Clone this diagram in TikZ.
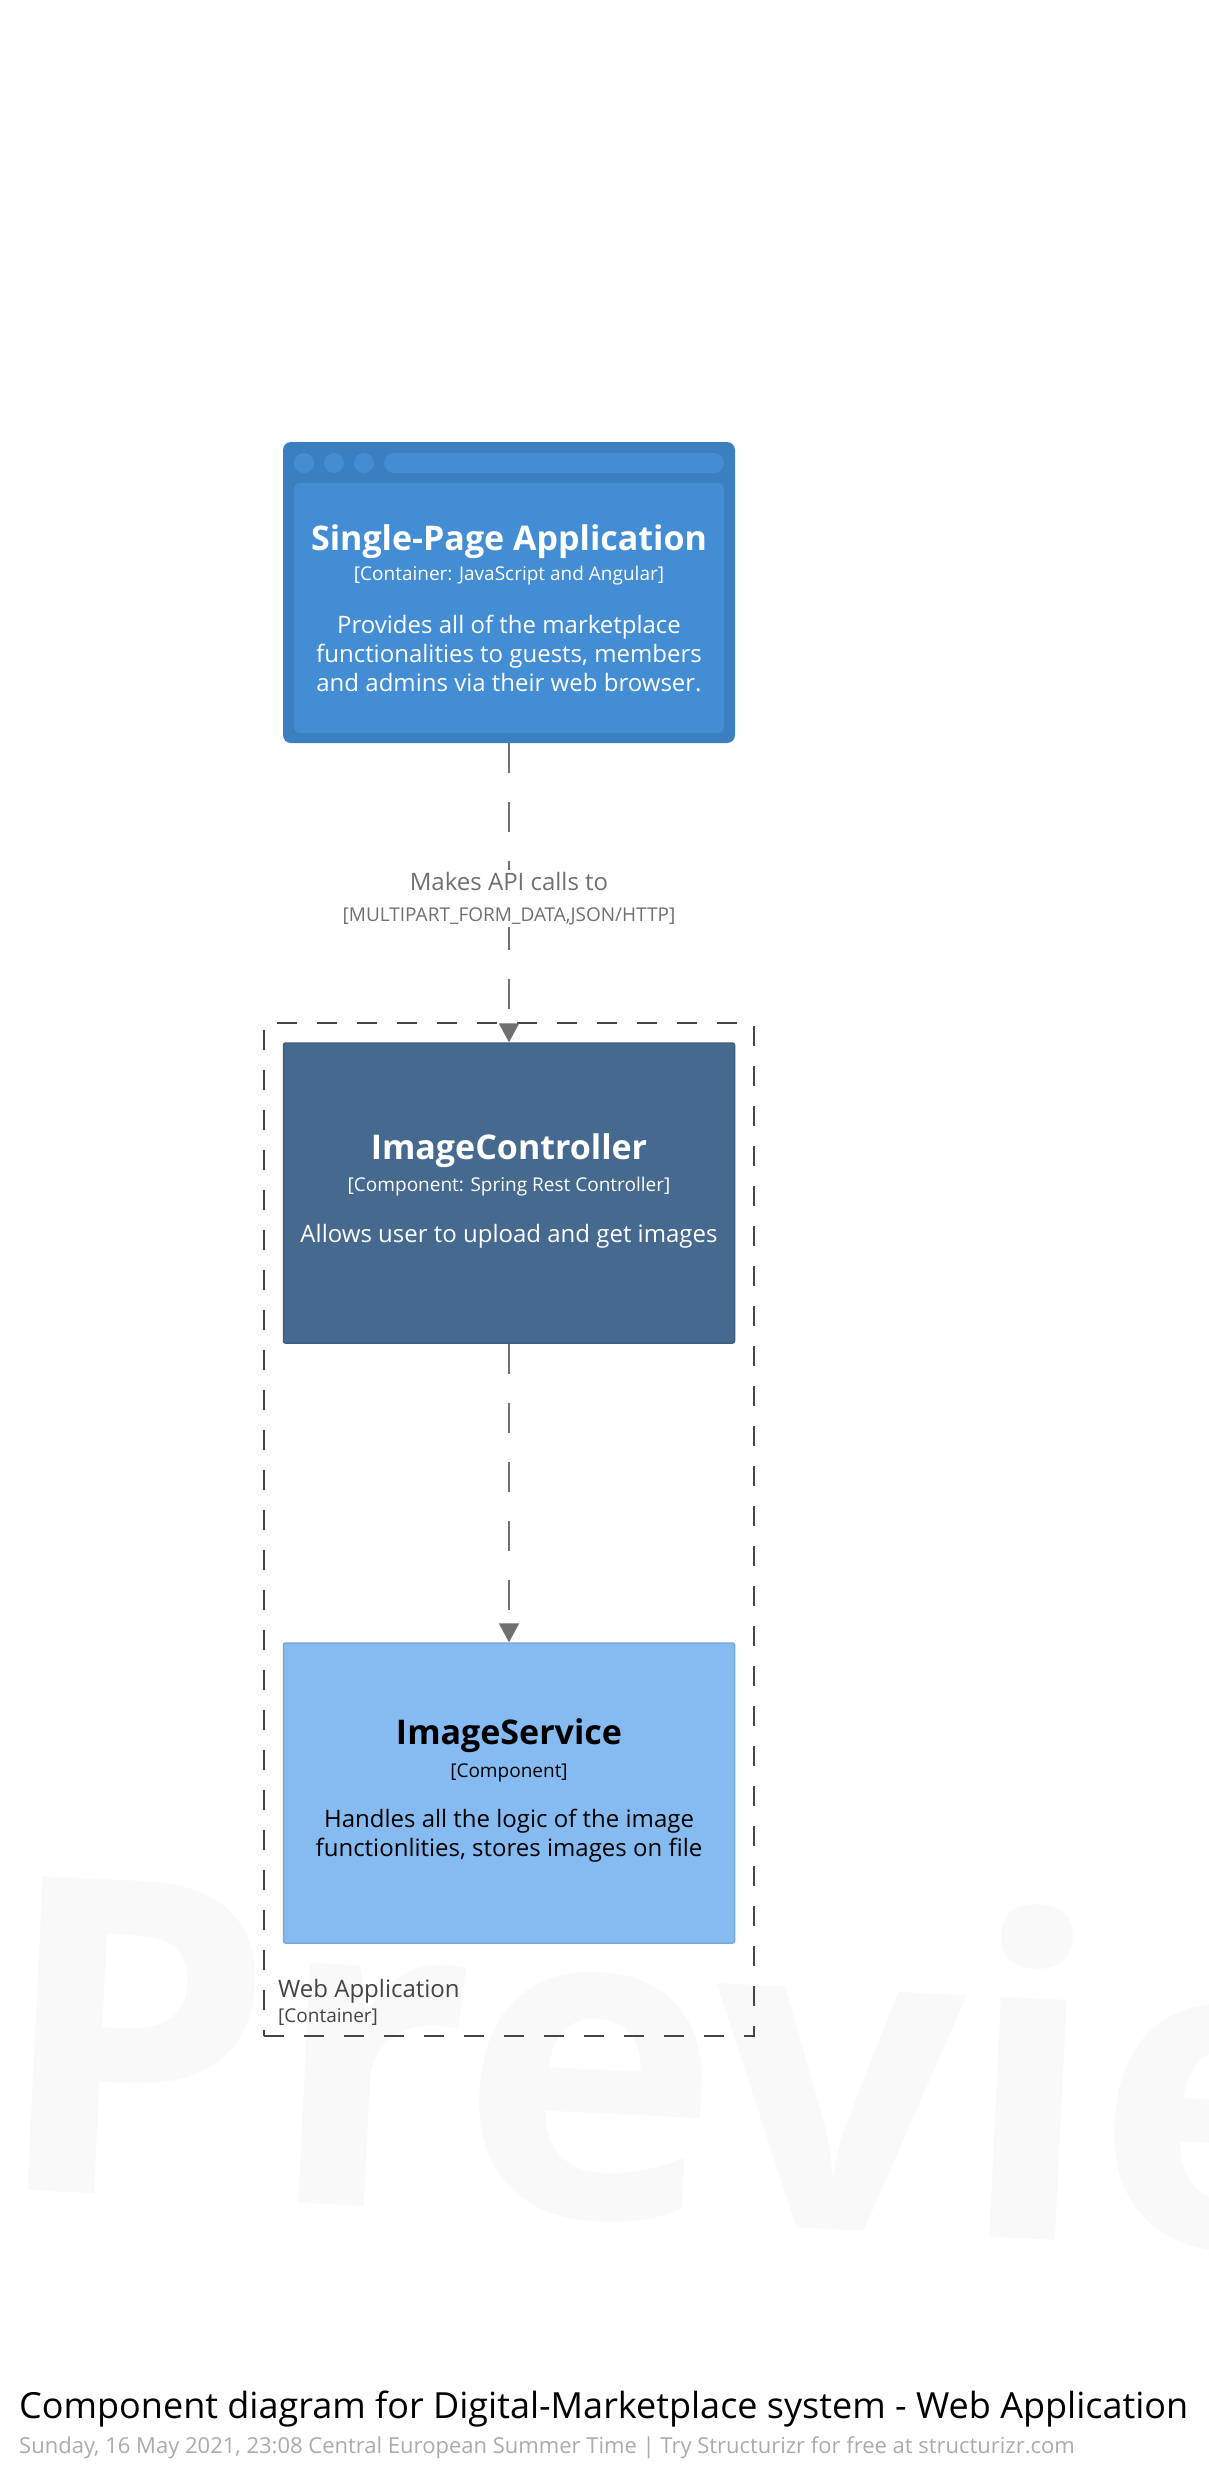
\documentclass[tikz,border=0pt]{standalone}
\usepackage{fontspec}
\setmainfont{Open Sans}
\usetikzlibrary{arrows.meta}

\definecolor{spablue}{HTML}{438DD5}
\definecolor{spaedge}{HTML}{3C7FC0}
\definecolor{ctrlblue}{HTML}{45698F}
\definecolor{ctrledge}{HTML}{3E5F81}
\definecolor{svcblue}{HTML}{85BBF0}
\definecolor{svcedge}{HTML}{78A8D8}
\definecolor{relgray}{HTML}{707070}
\definecolor{bndgray}{HTML}{444444}
\definecolor{subgray}{HTML}{ABABAB}
\definecolor{wmgray}{HTML}{F9F9F9}

\newcommand{\fsz}[2]{\fontsize{#1}{#2}\selectfont}

\tikzset{
  compbox/.style={rectangle,rounded corners=2pt,line width=1.5pt,minimum width=451pt,minimum height=300pt,inner sep=0pt},
  nametext/.style={font=\bfseries\fsz{34}{40},inner sep=0pt},
  techtext/.style={font=\fsz{19}{23},inner sep=0pt},
  desctext/.style={font=\fsz{24}{29},align=center,inner sep=0pt},
  rel/.style={draw=relgray,line width=2pt,dash pattern=on 30pt off 29pt,-{Triangle[width=20pt,length=19pt]}},
  rellabel/.style={fill=white,text=relgray,align=center,inner sep=2pt,font=\fsz{24}{31}},
  boundary/.style={draw=bndgray,line width=2pt,dash pattern=on 20pt off 20pt,minimum width=490pt,minimum height=1013pt,inner sep=0pt}
}

\begin{document}
\begin{tikzpicture}[x=1pt,y=-1pt]

\fill[white] (0,0) rectangle (1208,2480);
\useasboundingbox (0,0) rectangle (1208,2480);

% watermark
\begin{scope}
\clip (0,0) rectangle (1208,2480);
\node[anchor=base west,rotate=-2.8,text=wmgray,font=\bfseries\fsz{440}{440},inner sep=0pt] (preview) at (-12,2188) {Preview};
\end{scope}

% web browser shape
\node[rectangle,rounded corners=8pt,fill=spaedge,minimum width=452pt,minimum height=301pt] (spa) at (509,592.5) {};
\node[rectangle,rounded corners=6pt,fill=spablue,minimum width=430pt,minimum height=250pt] (spapanel) at (509,608) {};
\foreach \dx in {304,334,364}
  \fill[spablue] (\dx,463) circle (10pt);
\fill[spablue,rounded corners=10pt] (384,453) rectangle (724,473);

\node[nametext,text=white] (spaname) at (509,542) {Single-Page Application};
\node[techtext,text=white] (spatech) at (509,576) {[Container: JavaScript and Angular]};
\node[desctext,text=white] (spadesc) at (509,653) {Provides all of the marketplace\\functionalities to guests, members\\and admins via their web browser.};

% container boundary
\node[boundary] (webapp) at (509,1529.5) {};
\node[anchor=west,text=bndgray,font=\fsz{24}{29},inner sep=0pt] (webappname) at (278,1991) {Web Application};
\node[anchor=west,text=bndgray,font=\fsz{19}{23},inner sep=0pt] (webapptech) at (278,2017) {[Container]};

% components
\node[compbox,fill=ctrlblue,draw=ctrledge] (controller) at (509,1193) {};
\node[nametext,text=white] (ctrlname) at (509,1151) {ImageController};
\node[techtext,text=white] (ctrltech) at (509,1187) {[Component: Spring Rest Controller]};
\node[desctext,text=white] (ctrldesc) at (509,1236) {Allows user to upload and get images};

\node[compbox,fill=svcblue,draw=svcedge] (service) at (509,1793) {};
\node[nametext,text=black] (svcname) at (509,1736) {ImageService};
\node[techtext,text=black] (svctech) at (509,1773) {[Component]};
\node[desctext,text=black] (svcdesc) at (509,1836) {Handles all the logic of the image\\functionlities, stores images on file};

% relationships
\draw[rel] (spa) -- (controller) node[rellabel,pos=0.52] (apicalls) {Makes API calls to\\{\fsz{19}{23}[MULTIPART\_FORM\_DATA,JSON/HTTP]}};
\draw[rel] (controller) -- (service);

% title
\node[anchor=west,font=\fsz{36}{42},inner sep=0pt] (title) at (19,2409) {Component diagram for Digital-Marketplace system - Web Application};
\node[anchor=west,text=subgray,font=\fsz{22}{26},inner sep=0pt] (subtitle) at (19,2448) {Sunday, 16 May 2021, 23:08 Central European Summer Time | Try Structurizr for free at structurizr.com};

\end{tikzpicture}
\end{document}
